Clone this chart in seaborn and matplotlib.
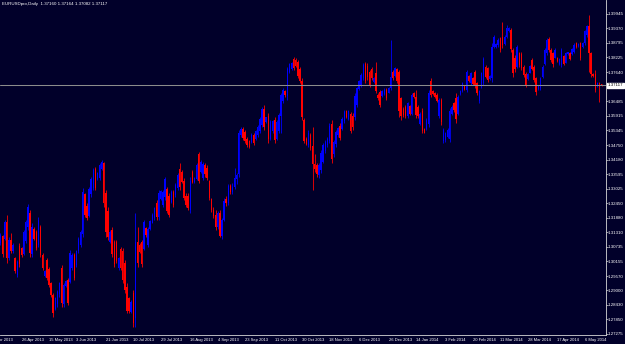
import numpy as np
import pandas as pd
import matplotlib
matplotlib.use("Agg")
import matplotlib.pyplot as plt
import seaborn as sns

title = "EURUSDpro,Daily  1.37160 1.37164 1.37082 1.37117"
start_date = "2013-04-12"
last_price = 1.37117

opens = [
    1.3088, 1.3115, 1.3105, 1.3170, 1.3030, 1.3100, 1.3055, 1.3030, 1.2962, 1.3075,
    1.3068, 1.3045, 1.3095, 1.3150, 1.3205, 1.3045, 1.3145, 1.3130, 1.3080, 1.3150,
    1.3040, 1.2958, 1.3020, 1.2985, 1.2928, 1.2880, 1.2828, 1.2845, 1.2885, 1.2990,
    1.2845, 1.2918, 1.2940, 1.2935, 1.2990, 1.3040, 1.3000, 1.3055, 1.3080, 1.3125,
    1.3280, 1.3235, 1.3195, 1.3280, 1.3305, 1.3380, 1.3340, 1.3345, 1.3380, 1.3405,
    1.3285, 1.3215, 1.3092, 1.3140, 1.3090, 1.3090, 1.2988, 1.3065, 1.3055, 1.3010,
    1.2915, 1.2868, 1.2815, 1.2890, 1.2790, 1.3090, 1.3080, 1.3090, 1.3065, 1.3148,
    1.3080, 1.3142, 1.3168, 1.3185, 1.3245, 1.3190, 1.3262, 1.3240, 1.3270, 1.3300,
    1.3275, 1.3250, 1.3290, 1.3278, 1.3305, 1.3380, 1.3370, 1.3335, 1.3275, 1.3275,
    1.3220, 1.3370, 1.3328, 1.3342, 1.3440, 1.3368, 1.3345, 1.3395, 1.3385, 1.3335,
    1.3260, 1.3220, 1.3200, 1.3150, 1.3205, 1.3115, 1.3180, 1.3260, 1.3245, 1.3315,
    1.3290, 1.3310, 1.3340, 1.3360, 1.3515, 1.3540, 1.3528, 1.3500, 1.3490, 1.3486,
    1.3515, 1.3500, 1.3515, 1.3530, 1.3555, 1.3620, 1.3565, 1.3590, 1.3500, 1.3530,
    1.3575, 1.3500, 1.3530, 1.3590, 1.3650, 1.3690, 1.3670, 1.3765, 1.3778, 1.3815,
    1.3812, 1.3805, 1.3775, 1.3730, 1.3575, 1.3500, 1.3475, 1.3515, 1.3470, 1.3400,
    1.3395, 1.3355, 1.3375, 1.3410, 1.3450, 1.3475, 1.3490, 1.3560, 1.3440, 1.3480,
    1.3515, 1.3550, 1.3540, 1.3570, 1.3610, 1.3580, 1.3600, 1.3590, 1.3585, 1.3635,
    1.3698, 1.3712, 1.3740, 1.3795, 1.3790, 1.3765, 1.3778, 1.3724, 1.3760, 1.3675,
    1.3685, 1.3670, 1.3678, 1.3695, 1.3682, 1.3700, 1.3765, 1.3750, 1.3775, 1.3765,
    1.3660, 1.3620, 1.3625, 1.3590, 1.3630, 1.3600, 1.3680, 1.3665, 1.3625, 1.3560,
    1.3610, 1.3538, 1.3540, 1.3560, 1.3730, 1.3690, 1.3682, 1.3675, 1.3590, 1.3655,
    1.3490, 1.3495, 1.3508, 1.3500, 1.3600, 1.3640, 1.3660, 1.3600, 1.3676, 1.3690,
    1.3710, 1.3695, 1.3750, 1.3720, 1.3742, 1.3765, 1.3720, 1.3648, 1.3705, 1.3720,
    1.3785, 1.3780, 1.3736, 1.3740, 1.3865, 1.3862, 1.3870, 1.3898, 1.3905, 1.3876,
    1.3905, 1.3928, 1.3930, 1.3850, 1.3820, 1.3785, 1.3840, 1.3835, 1.3785, 1.3758,
    1.3738, 1.3762, 1.3812, 1.3785, 1.3740, 1.3696, 1.3700, 1.3745, 1.3798, 1.3840,
    1.3895, 1.3850, 1.3838, 1.3822, 1.3822, 1.3795, 1.3792, 1.3828, 1.3802, 1.3834,
    1.3840, 1.3835, 1.3845, 1.3880, 1.3866, 1.3878, 1.3862, 1.3878, 1.3910, 1.3945,
    1.3840, 1.3756, 1.3755, 1.3710, 1.3722, 1.37160,
]

highs = [
    1.3126, 1.3119, 1.3179, 1.3198, 1.3113, 1.3126, 1.3086, 1.3033, 1.3020, 1.3086,
    1.3073, 1.3139, 1.3179, 1.3242, 1.3218, 1.3165, 1.3152, 1.3139, 1.3192, 1.3159,
    1.3047, 1.2981, 1.3027, 1.2994, 1.2934, 1.2888, 1.2875, 1.2901, 1.2934, 1.3000,
    1.2928, 1.2941, 1.2948, 1.3060, 1.3047, 1.3047, 1.3060, 1.3113, 1.3139, 1.3304,
    1.3284, 1.3245, 1.3311, 1.3350, 1.3383, 1.3390, 1.3370, 1.3403, 1.3416, 1.3410,
    1.3297, 1.3231, 1.3139, 1.3152, 1.3099, 1.3099, 1.3033, 1.3073, 1.3066, 1.3020,
    1.2928, 1.2875, 1.2862, 1.2901, 1.3205, 1.3152, 1.3086, 1.3099, 1.3179, 1.3152,
    1.3152, 1.3179, 1.3205, 1.3231, 1.3258, 1.3297, 1.3297, 1.3297, 1.3350, 1.3311,
    1.3284, 1.3297, 1.3297, 1.3324, 1.3363, 1.3403, 1.3377, 1.3344, 1.3284, 1.3284,
    1.3350, 1.3377, 1.3350, 1.3403, 1.3449, 1.3416, 1.3410, 1.3403, 1.3396, 1.3337,
    1.3265, 1.3230, 1.3220, 1.3215, 1.3220, 1.3185, 1.3265, 1.3275, 1.3320, 1.3320,
    1.3325, 1.3385, 1.3365, 1.3535, 1.3548, 1.3548, 1.3535, 1.3509, 1.3495, 1.3522,
    1.3522, 1.3535, 1.3555, 1.3588, 1.3627, 1.3634, 1.3588, 1.3601, 1.3575, 1.3575,
    1.3588, 1.3575, 1.3601, 1.3680, 1.3700, 1.3693, 1.3786, 1.3799, 1.3806, 1.3825,
    1.3819, 1.3812, 1.3786, 1.3740, 1.3581, 1.3509, 1.3535, 1.3522, 1.3548, 1.3440,
    1.3403, 1.3403, 1.3456, 1.3482, 1.3495, 1.3509, 1.3561, 1.3575, 1.3495, 1.3535,
    1.3548, 1.3561, 1.3588, 1.3614, 1.3614, 1.3614, 1.3608, 1.3601, 1.3680, 1.3707,
    1.3733, 1.3759, 1.3799, 1.3806, 1.3799, 1.3773, 1.3786, 1.3746, 1.3806, 1.3680,
    1.3693, 1.3693, 1.3700, 1.3700, 1.3707, 1.3891, 1.3773, 1.3786, 1.3780, 1.3773,
    1.3667, 1.3627, 1.3634, 1.3647, 1.3634, 1.3680, 1.3687, 1.3693, 1.3634, 1.3608,
    1.3621, 1.3542, 1.3581, 1.3693, 1.3740, 1.3693, 1.3687, 1.3680, 1.3660, 1.3660,
    1.3542, 1.3528, 1.3542, 1.3621, 1.3634, 1.3647, 1.3680, 1.3674, 1.3693, 1.3726,
    1.3713, 1.3773, 1.3753, 1.3766, 1.3746, 1.3773, 1.3726, 1.3693, 1.3766, 1.3825,
    1.3792, 1.3786, 1.3753, 1.3878, 1.3911, 1.3878, 1.3898, 1.3905, 1.3964, 1.3911,
    1.3951, 1.3944, 1.3938, 1.3858, 1.3832, 1.3872, 1.3845, 1.3845, 1.3792, 1.3766,
    1.3759, 1.3792, 1.3819, 1.3792, 1.3746, 1.3713, 1.3746, 1.3792, 1.3858, 1.3898,
    1.3905, 1.3858, 1.3845, 1.3858, 1.3825, 1.3819, 1.3858, 1.3832, 1.3845, 1.3845,
    1.3845, 1.3858, 1.3878, 1.3885, 1.3878, 1.3885, 1.3885, 1.3931, 1.3951, 1.3990,
    1.3845, 1.3759, 1.3773, 1.3726, 1.3726, 1.37164,
]

lows = [
    1.3080, 1.3033, 1.3099, 1.3007, 1.3020, 1.3047, 1.3047, 1.2967, 1.2954, 1.2994,
    1.3033, 1.3040, 1.3086, 1.3139, 1.3033, 1.3033, 1.3099, 1.3060, 1.3073, 1.3033,
    1.2981, 1.2954, 1.2941, 1.2915, 1.2875, 1.2796, 1.2822, 1.2835, 1.2875, 1.2835,
    1.2835, 1.2915, 1.2842, 1.2928, 1.2981, 1.2941, 1.2994, 1.3047, 1.3073, 1.3113,
    1.3192, 1.3179, 1.3192, 1.3271, 1.3297, 1.3297, 1.3337, 1.3337, 1.3377, 1.3231,
    1.3113, 1.3099, 1.3086, 1.3033, 1.2994, 1.3007, 1.2981, 1.2981, 1.2928, 1.2888,
    1.2809, 1.2809, 1.2809, 1.2756, 1.2756, 1.2994, 1.3047, 1.2994, 1.3060, 1.3113,
    1.3073, 1.3139, 1.3165, 1.3179, 1.3179, 1.3179, 1.3258, 1.3231, 1.3258, 1.3205,
    1.3192, 1.3245, 1.3231, 1.3271, 1.3297, 1.3297, 1.3324, 1.3258, 1.3231, 1.3218,
    1.3205, 1.3324, 1.3324, 1.3337, 1.3324, 1.3363, 1.3337, 1.3350, 1.3337, 1.3258,
    1.3210, 1.3185, 1.3140, 1.3145, 1.3110, 1.3105, 1.3175, 1.3235, 1.3240, 1.3280,
    1.3280, 1.3300, 1.3320, 1.3350, 1.3509, 1.3495, 1.3482, 1.3469, 1.3462, 1.3482,
    1.3476, 1.3495, 1.3509, 1.3522, 1.3548, 1.3535, 1.3561, 1.3482, 1.3495, 1.3522,
    1.3482, 1.3495, 1.3522, 1.3522, 1.3641, 1.3667, 1.3654, 1.3759, 1.3773, 1.3773,
    1.3786, 1.3740, 1.3720, 1.3575, 1.3482, 1.3476, 1.3469, 1.3456, 1.3297, 1.3370,
    1.3350, 1.3344, 1.3363, 1.3403, 1.3443, 1.3469, 1.3482, 1.3403, 1.3429, 1.3469,
    1.3509, 1.3495, 1.3535, 1.3561, 1.3581, 1.3575, 1.3522, 1.3535, 1.3575, 1.3627,
    1.3693, 1.3707, 1.3733, 1.3720, 1.3733, 1.3707, 1.3733, 1.3720, 1.3680, 1.3654,
    1.3627, 1.3667, 1.3674, 1.3654, 1.3680, 1.3693, 1.3733, 1.3746, 1.3720, 1.3588,
    1.3575, 1.3588, 1.3581, 1.3581, 1.3594, 1.3594, 1.3660, 1.3581, 1.3581, 1.3555,
    1.3522, 1.3522, 1.3535, 1.3548, 1.3667, 1.3674, 1.3660, 1.3647, 1.3581, 1.3555,
    1.3482, 1.3489, 1.3502, 1.3489, 1.3594, 1.3608, 1.3561, 1.3594, 1.3674, 1.3687,
    1.3693, 1.3687, 1.3726, 1.3713, 1.3713, 1.3700, 1.3674, 1.3641, 1.3700, 1.3713,
    1.3740, 1.3726, 1.3733, 1.3726, 1.3858, 1.3858, 1.3865, 1.3845, 1.3858, 1.3872,
    1.3898, 1.3924, 1.3845, 1.3746, 1.3766, 1.3779, 1.3786, 1.3773, 1.3746, 1.3707,
    1.3733, 1.3759, 1.3773, 1.3726, 1.3674, 1.3693, 1.3693, 1.3740, 1.3792, 1.3832,
    1.3845, 1.3806, 1.3786, 1.3819, 1.3806, 1.3792, 1.3786, 1.3792, 1.3799, 1.3832,
    1.3812, 1.3832, 1.3839, 1.3858, 1.3865, 1.3812, 1.3858, 1.3872, 1.3905, 1.3766,
    1.3746, 1.3746, 1.3687, 1.3707, 1.3647, 1.37082,
]

closes = [
    1.3118, 1.3045, 1.3170, 1.3030, 1.3100, 1.3055, 1.3080, 1.2975, 1.3012, 1.3005,
    1.3040, 1.3130, 1.3170, 1.3230, 1.3050, 1.3150, 1.3105, 1.3068, 1.3180, 1.3040,
    1.2990, 1.2976, 1.2950, 1.2922, 1.2882, 1.2810, 1.2868, 1.2895, 1.2928, 1.2850,
    1.2920, 1.2938, 1.2850, 1.3050, 1.3040, 1.2950, 1.3055, 1.3105, 1.3132, 1.3290,
    1.3200, 1.3185, 1.3300, 1.3340, 1.3375, 1.3305, 1.3365, 1.3398, 1.3410, 1.3245,
    1.3130, 1.3110, 1.3132, 1.3045, 1.3005, 1.3015, 1.3028, 1.2990, 1.2940, 1.2900,
    1.2820, 1.2818, 1.2855, 1.2770, 1.3090, 1.3010, 1.3052, 1.3005, 1.3170, 1.3118,
    1.3145, 1.3175, 1.3200, 1.3225, 1.3190, 1.3285, 1.3292, 1.3290, 1.3340, 1.3215,
    1.3200, 1.3290, 1.3240, 1.3318, 1.3355, 1.3310, 1.3330, 1.3265, 1.3240, 1.3228,
    1.3335, 1.3330, 1.3345, 1.3395, 1.3335, 1.3410, 1.3400, 1.3360, 1.3345, 1.3265,
    1.3220, 1.3195, 1.3150, 1.3205, 1.3115, 1.3180, 1.3255, 1.3245, 1.3315, 1.3290,
    1.3310, 1.3345, 1.3358, 1.3525, 1.3540, 1.3502, 1.3490, 1.3475, 1.3468, 1.3515,
    1.3482, 1.3530, 1.3548, 1.3580, 1.3618, 1.3545, 1.3585, 1.3500, 1.3565, 1.3570,
    1.3495, 1.3565, 1.3595, 1.3672, 1.3692, 1.3672, 1.3775, 1.3795, 1.3800, 1.3780,
    1.3790, 1.3748, 1.3730, 1.3585, 1.3490, 1.3480, 1.3525, 1.3465, 1.3400, 1.3380,
    1.3360, 1.3395, 1.3445, 1.3475, 1.3488, 1.3500, 1.3552, 1.3420, 1.3488, 1.3528,
    1.3542, 1.3505, 1.3580, 1.3608, 1.3588, 1.3610, 1.3530, 1.3545, 1.3670, 1.3700,
    1.3728, 1.3752, 1.3792, 1.3730, 1.3745, 1.3715, 1.3740, 1.3742, 1.3690, 1.3660,
    1.3635, 1.3688, 1.3695, 1.3660, 1.3703, 1.3745, 1.3740, 1.3780, 1.3728, 1.3610,
    1.3590, 1.3595, 1.3590, 1.3640, 1.3600, 1.3672, 1.3665, 1.3595, 1.3590, 1.3600,
    1.3530, 1.3525, 1.3575, 1.3680, 1.3675, 1.3678, 1.3665, 1.3650, 1.3655, 1.3565,
    1.3535, 1.3522, 1.3536, 1.3610, 1.3628, 1.3615, 1.3580, 1.3665, 1.3690, 1.3720,
    1.3697, 1.3765, 1.3730, 1.3760, 1.3718, 1.3708, 1.3680, 1.3688, 1.3760, 1.3815,
    1.3745, 1.3732, 1.3750, 1.3865, 1.3905, 1.3875, 1.3892, 1.3852, 1.3870, 1.3905,
    1.3940, 1.3940, 1.3855, 1.3760, 1.3775, 1.3865, 1.3792, 1.3780, 1.3752, 1.3715,
    1.3755, 1.3788, 1.3778, 1.3732, 1.3685, 1.3710, 1.3740, 1.3786, 1.3850, 1.3890,
    1.3850, 1.3812, 1.3795, 1.3852, 1.3810, 1.3815, 1.3850, 1.3798, 1.3838, 1.3843,
    1.3818, 1.3855, 1.3872, 1.3862, 1.3876, 1.3820, 1.3880, 1.3925, 1.3945, 1.3840,
    1.3755, 1.3750, 1.3695, 1.3722, 1.3705, 1.37117,
]

price_ticks = [1.27275, 1.27850, 1.28430, 1.29000, 1.29570, 1.30155, 1.30735,
               1.31310, 1.31880, 1.32450, 1.33025, 1.33595, 1.34180, 1.34750,
               1.35345, 1.35915, 1.36485, 1.37640, 1.38225, 1.38795, 1.39370,
               1.39945]

date_ticks = ["2013-04-26", "2013-05-15", "2013-06-03", "2013-06-21", "2013-07-10",
              "2013-07-29", "2013-08-16", "2013-09-04", "2013-09-23", "2013-10-11",
              "2013-10-30", "2013-11-18", "2013-12-06", "2013-12-26", "2014-01-14",
              "2014-02-03", "2014-02-20", "2014-03-11", "2014-03-28", "2014-04-17",
              "2014-05-06"]
cut_label = "9 Apr 2013"

# ---------------------------------------------------------------
sns.set_theme(style="dark")
plt.rcParams['font.family'] = ['Liberation Sans', 'DejaVu Sans']

bg = '#01002a'
fg = 'white'
up_col = '#0000ff'
dn_col = '#ff0000'

n = len(closes)
dates = pd.bdate_range(start_date, periods=n)
df = pd.DataFrame({"date": dates, "open": opens, "high": highs,
                   "low": lows, "close": closes})
df["x"] = np.arange(n)
df["up"] = df["close"] >= df["open"]
df["color"] = np.where(df["up"], up_col, dn_col)
df["body_lo"] = df[["open", "close"]].min(axis=1)
df["body_h"] = (df["close"] - df["open"]).abs().clip(lower=0.00012)

W, H = 625, 344
fig = plt.figure(figsize=(W / 100, H / 100), dpi=100, facecolor=bg)
ax = fig.add_axes([0, 9 / H, 606 / W, 335 / H])
ax.set_facecolor(bg)

ax.vlines(df["x"], df["low"], df["high"], colors=df["color"], lw=0.6)
ax.bar(df["x"], df["body_h"], bottom=df["body_lo"], width=0.68,
       color=df["color"], linewidth=0)

ax.axhline(last_price, color='#8c8c8c', lw=0.75)

ax.set_xlim(-0.2, 287.1)
ax.set_ylim(1.27235, 1.40497)
ax.grid(False)

for s in ("top", "left"):
    ax.spines[s].set_visible(False)
for s in ("right", "bottom"):
    ax.spines[s].set_visible(True)
    ax.spines[s].set_color('#d8d8d8')
    ax.spines[s].set_linewidth(0.6)

# right price axis
ax.yaxis.tick_right()
ax.set_yticks(price_ticks)
ax.set_yticklabels([f"{v:.5f}" for v in price_ticks])
ax.tick_params(axis='y', colors='#d8d8d8', labelcolor=fg, labelsize=3.2,
               length=1.2, width=0.5, pad=0.3, direction='out', right=True,
               left=False)

# bottom time axis
tick_dates = pd.to_datetime(date_ticks)
tick_pos = dates.get_indexer(tick_dates)
ax.set_xticks(tick_pos)
ax.set_xticklabels([f"{d.day} {d.strftime('%b %Y')}" for d in tick_dates],
                   ha='left')
ax.tick_params(axis='x', colors='#d8d8d8', labelcolor=fg, labelsize=3.0,
               length=1.5, width=0.5, pad=0.6, direction='out')
ax.text(-3.3, -0.008, cut_label, transform=ax.get_xaxis_transform(),
        fontsize=3.0, color=fg, ha='left', va='top', clip_on=False)

# current price label
ax.text(1.003, last_price, f"{last_price:.5f}",
        transform=ax.get_yaxis_transform(), fontsize=3.2, color='black',
        ha='left', va='center', clip_on=False,
        bbox=dict(boxstyle='square,pad=0.15', fc='white', ec='white'))

fig.text(2 / W, 1 - 2 / H, title, fontsize=3.2, color=fg, ha='left', va='top')

fig.savefig("out.png", dpi=100, facecolor=bg)
